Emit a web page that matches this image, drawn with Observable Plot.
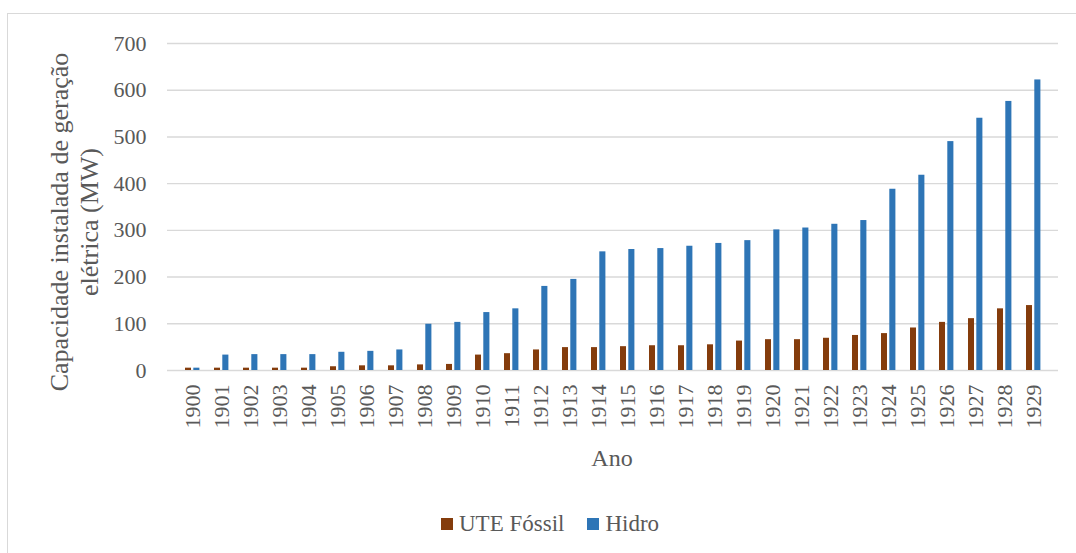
<!DOCTYPE html>
<html><head><meta charset="utf-8">
<script src="https://cdn.jsdelivr.net/npm/d3@7"></script>
<script src="https://cdn.jsdelivr.net/npm/@observablehq/plot@0.6"></script>
<style>
body{margin:0;background:#fff;font-family:"Liberation Serif","Times New Roman",serif;color:#595959;}
#wrap{position:relative;width:1076px;height:553px;overflow:hidden;background:#fff;}
#frame{position:absolute;left:7px;top:13px;width:1200px;height:700px;border-left:1.5px solid #d9d9d9;border-top:1.5px solid #d9d9d9;}
#chart{position:absolute;left:0;top:0;}
#chart svg text{font-family:"Liberation Serif","Times New Roman",serif;}
#ytitle{position:absolute;width:400px;left:-125px;top:192px;height:60px;line-height:30px;font-size:26px;text-align:center;transform:rotate(-90deg);white-space:nowrap;}
#xtitle{position:absolute;left:512px;width:200px;top:445px;text-align:center;font-size:24px;}
#legend{position:absolute;left:441px;top:511px;font-size:23px;display:flex;align-items:center;white-space:nowrap;}
.sw{display:inline-block;width:12px;height:12px;margin-right:6px;}
</style></head>
<body>
<div id="wrap">
  <div id="frame"></div>
  <div id="chart"></div>
  <div id="ytitle">Capacidade instalada de geração<br>elétrica (MW)</div>
  <div id="xtitle">Ano</div>
  <div id="legend"></div>
</div>
<script>
const years = ["1900","1901","1902","1903","1904","1905","1906","1907","1908","1909",
  "1910","1911","1912","1913","1914","1915","1916","1917","1918","1919",
  "1920","1921","1922","1923","1924","1925","1926","1927","1928","1929"];
const fossil = [5,5,5,5,5,8,10,10,12,13,33,36,44,49,49,51,53,53,55,63,66,66,69,75,79,91,103,111,132,139];
const hidro = [5,33,34,34,34,39,41,44,99,103,124,132,180,195,254,259,261,266,272,278,301,305,313,321,388,418,490,540,576,622];
const seriesNames = ["UTE Fóssil","Hidro"];
const seriesColors = ["#843C0C","#2E75B6"];
const yTicks = [0,100,200,300,400,500,600,700];
const serif = '"Liberation Serif","Times New Roman",serif';

const fossilData = years.map((y,i)=>({year:y, value:fossil[i]}));
const hidroData = years.map((y,i)=>({year:y, value:hidro[i]}));

const chart = Plot.plot({
  width: 1076, height: 480,
  marginLeft: 167, marginRight: 18, marginTop: 43, marginBottom: 110,
  style: `font-family:${serif};color:#595959;background:transparent;`,
  x: {type: "band", domain: years, padding: 0},
  y: {domain: [0,700]},
  marks: [
    Plot.gridY(yTicks, {stroke: "#d9d9d9", strokeOpacity: 1, strokeWidth: 1.4}),
    Plot.barY(fossilData, {x: "year", y: "value", fill: seriesColors[0], insetLeft: 7, insetRight: 16}),
    Plot.barY(hidroData, {x: "year", y: "value", fill: seriesColors[1], insetLeft: 15.3, insetRight: 7.6}),
    Plot.axisY({ticks: yTicks, tickSize: 0, tickPadding: 21, fontSize: 22, fontFamily: serif, label: null, fill: "#595959"}),
    Plot.axisX({tickRotate: -90, tickSize: 0, tickPadding: 14, fontSize: 22, fontFamily: serif, label: null, fill: "#595959"})
  ]
});
document.getElementById("chart").appendChild(chart);

const legend = document.getElementById("legend");
seriesNames.forEach((n,i)=>{
  const item = document.createElement("span");
  item.style.display = "inline-flex";
  item.style.alignItems = "center";
  item.style.marginRight = i === 0 ? "23px" : "0";
  const sw = document.createElement("span");
  sw.className = "sw";
  sw.style.background = seriesColors[i];
  item.appendChild(sw);
  item.appendChild(document.createTextNode(n));
  legend.appendChild(item);
});
</script>
</body></html>
